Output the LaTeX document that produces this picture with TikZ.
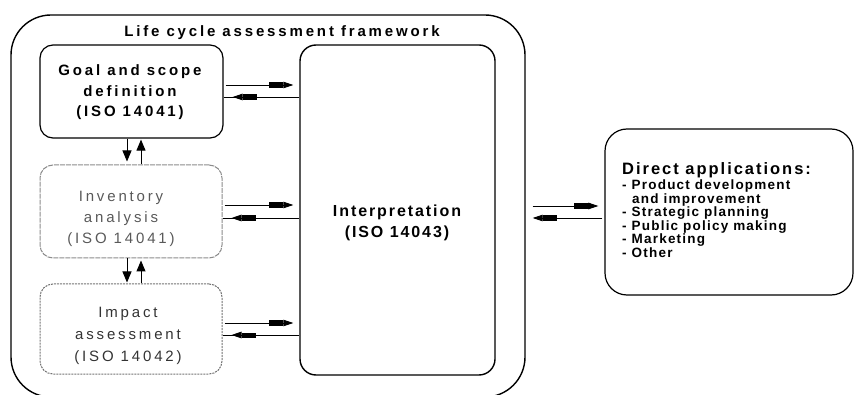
\documentclass[tikz,border=0pt]{standalone}
\usepackage{fontspec}
\setmainfont{Liberation Sans}
\newfontfamily\spacedA[LetterSpace=19]{Liberation Sans}
\newfontfamily\spacedB[LetterSpace=12]{Liberation Sans}
\newfontfamily\spacedC[LetterSpace=9]{Liberation Sans}
\usetikzlibrary{arrows.meta,decorations.markings}

\tikzset{
  framebox/.style={draw, line width=1.4pt, rounded corners=40pt, inner sep=0pt},
  stagebox/.style={draw, line width=1.2pt, rounded corners=13pt, inner sep=0pt},
  invbox/.style={draw=black!45, line width=1pt, dash pattern=on 5pt off 1pt, rounded corners=13pt, inner sep=0pt},
  impbox/.style={draw=black!55, line width=1pt, dash pattern=on 2pt off 1pt, rounded corners=13pt, inner sep=0pt},
  bigbox/.style={draw, line width=1.4pt, rounded corners=16pt, inner sep=0pt},
  appbox/.style={draw, line width=1.2pt, rounded corners=22pt, inner sep=0pt},
  link/.style={line width=0.9pt},
  fwd/.style={link, -{Rectangle[length=14pt,width=5pt,sep=0pt]Triangle[length=10pt,width=6.5pt,sep=0pt]}},
  back/.style={link, postaction=decorate,
    decoration={markings, mark=at position -9pt with
      {\arrow{Rectangle[length=14pt,width=5pt,sep=0pt]Triangle[length=10pt,width=6.5pt,sep=0pt]}}}},
  vlink/.style={line width=1pt, -{Triangle[length=11pt,width=9pt]}},
  stagetext/.style={align=center, inner sep=0pt, font=\spacedA\fontsize{15}{21}\selectfont},
  listtext/.style={anchor=base west, inner sep=0pt, font=\spacedC\bfseries\fontsize{13.5}{14}\selectfont},
}

\begin{document}
\begin{tikzpicture}[x=1pt, y=-1pt]
\useasboundingbox (0,0) rectangle (854,395);

% outer framework and the stage boxes
\node[framebox, minimum width=514pt, minimum height=382pt] (frame) at (268,206) {};
\node[stagebox, minimum width=183pt, minimum height=93pt] (goal) at (131.5,91.5) {};
\node[invbox, minimum width=182pt, minimum height=93pt] (inv) at (131,211.5) {};
\node[impbox, minimum width=182pt, minimum height=90pt] (imp) at (131,329) {};
\node[bigbox, minimum width=195pt, minimum height=330pt] (interp) at (397.5,210) {};
\node[appbox, minimum width=248pt, minimum height=166pt] (apps) at (729,212) {};

% texts
\node[anchor=base, inner sep=0pt, font=\spacedA\bfseries\fontsize{15}{18}\selectfont] (title) at (282,37) {Life cycle assessment framework};
\node[stagetext, font=\spacedA\bfseries\fontsize{15}{20.5}\selectfont] (goalT) at (130,92.5) {Goal and scope\\definition\\(ISO 14041)};
\node[stagetext, text=black!65] (invT) at (121,219) {Inventory\\analysis\\(ISO 14041)};
\node[stagetext, text=black!80, font=\spacedA\fontsize{15}{22}\selectfont] (impT) at (128,336) {Impact\\assessment\\(ISO 14042)};
\node[align=center, inner sep=0pt, font=\spacedB\bfseries\fontsize{16}{21}\selectfont] (interpT) at (397,223) {Interpretation\\(ISO 14043)};

\node[anchor=base west, inner sep=0pt, font=\spacedB\bfseries\fontsize{16.5}{18}\selectfont] (appsT) at (622,175) {Direct applications:};
\node[listtext] (l1) at (622,190) {- Product development};
\node[listtext] (l2) at (632,203.5) {and improvement};
\node[listtext] (l3) at (622,217) {- Strategic planning};
\node[listtext] (l4) at (622,230.5) {- Public policy making};
\node[listtext] (l5) at (622,244) {- Marketing};
\node[listtext] (l6) at (622,257.5) {- Other};

% rows of the paired horizontal arrows
\coordinate (ga) at (0,85);  \coordinate (gb) at (0,97);
\coordinate (ia) at (0,205); \coordinate (ib) at (0,218);
\coordinate (ma) at (0,323); \coordinate (mb) at (0,335);
\coordinate (da) at (0,206); \coordinate (db) at (0,218);
% columns of the vertical arrows
\coordinate (vd) at (127,0); \coordinate (vu) at (141,0);

% stages <-> interpretation
\draw[fwd, shorten <=2pt, shorten >=6pt] (goal.east |- ga) -- (interp.west |- ga);
\draw[back] (interp.west |- gb) -- (goal.east |- gb);
\draw[fwd, shorten <=2pt, shorten >=6pt] (inv.east |- ia) -- (interp.west |- ia);
\draw[back] (interp.west |- ib) -- (inv.east |- ib);
\draw[fwd, shorten <=2pt, shorten >=6pt] (imp.east |- ma) -- (interp.west |- ma);
\draw[back] (interp.west |- mb) -- (imp.east |- mb);

% framework <-> direct applications
\draw[fwd, shorten <=7pt, shorten >=6pt] (frame.east |- da) -- (apps.west |- da);
\draw[fwd, shorten <=2pt, shorten >=7pt] (apps.west |- db) -- (frame.east |- db);

% stage to stage
\draw[vlink, shorten >=3pt] (goal.south -| vd) -- (inv.north -| vd);
\draw[vlink, shorten >=1pt] (inv.north -| vu) -- (goal.south -| vu);
\draw[vlink, shorten >=1pt] (inv.south -| vd) -- (imp.north -| vd);
\draw[vlink, shorten >=2pt] (imp.north -| vu) -- (inv.south -| vu);
\end{tikzpicture}
\end{document}
